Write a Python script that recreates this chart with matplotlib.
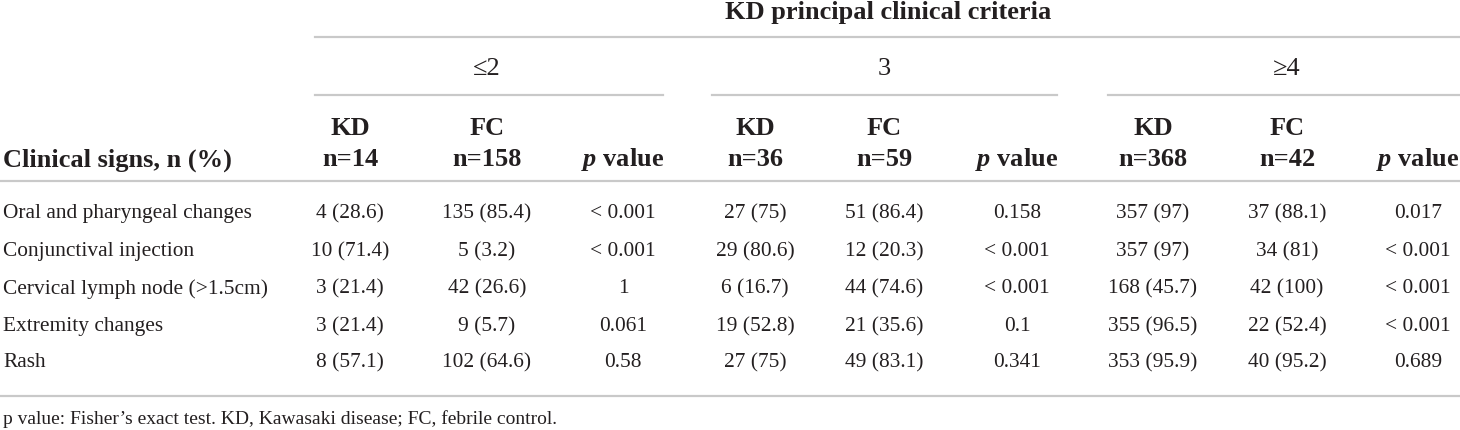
import matplotlib.pyplot as plt
import matplotlib as mpl

# table data
signs = ['Oral and pharyngeal changes', 'Conjunctival injection',
         'Cervical lymph node (>1.5cm)', 'Extremity changes', 'Rash']
groups = ['≤2', '3', '≥4']
kd_total = [14, 36, 368]
fc_total = [158, 59, 42]

kd_le2_n = [4, 10, 3, 3, 8]
kd_le2_pct = [28.6, 71.4, 21.4, 21.4, 57.1]
fc_le2_n = [135, 5, 42, 9, 102]
fc_le2_pct = [85.4, 3.2, 26.6, 5.7, 64.6]
p_le2 = ['< 0.001', '< 0.001', '1', '0.061', '0.58']

kd_3_n = [27, 29, 6, 19, 27]
kd_3_pct = [75, 80.6, 16.7, 52.8, 75]
fc_3_n = [51, 12, 44, 21, 49]
fc_3_pct = [86.4, 20.3, 74.6, 35.6, 83.1]
p_3 = ['0.158', '< 0.001', '< 0.001', '0.1', '0.341']

kd_ge4_n = [357, 357, 168, 355, 353]
kd_ge4_pct = [97, 97, 45.7, 96.5, 95.9]
fc_ge4_n = [37, 34, 42, 22, 40]
fc_ge4_pct = [88.1, 81, 100, 52.4, 95.2]
p_ge4 = ['0.017', '< 0.001', '< 0.001', '< 0.001', '0.689']

footnote = 'p value: Fisher\u2019s exact test. KD, Kawasaki disease; FC, febrile control.'

mpl.rcParams['font.family'] = ['Liberation Serif', 'DejaVu Serif']
mpl.rcParams['mathtext.fontset'] = 'custom'
mpl.rcParams['mathtext.it'] = 'Liberation Serif:italic:bold'
mpl.rcParams['mathtext.rm'] = 'Liberation Serif:bold'

W, H = 1460, 431
fig = plt.figure(figsize=(W / 100, H / 100), dpi=100)
ax = fig.add_axes([0, 0, 1, 1])
ax.set_xlim(0, W)
ax.set_ylim(H, 0)
ax.axis('off')

txt = '#231f20'
rule = '#c9c9c9'
fs = 15.4     # body
hfs = 19      # header
ffs = 14      # footnote

col_x = [350, 487, 623, 755, 884, 1017, 1153, 1287, 1418]
row_y = [214, 252, 289, 327, 363]

def cell(n, pct):
    return '%d (%g)' % (n, pct)

# rules
ax.plot([315, W], [37.5, 37.5], color=rule, lw=1.6)
for x0, x1 in [(315, 663), (712, 1057), (1108, W)]:
    ax.plot([x0, x1], [96, 96], color=rule, lw=1.6)
ax.plot([0, W], [182, 182], color=rule, lw=1.6)
ax.plot([0, W], [397, 397], color=rule, lw=1.6)

# header
ax.text(888, 13, 'KD principal clinical criteria', ha='center', va='center',
        fontsize=hfs, fontweight='bold', color=txt)
for i, g in enumerate(groups):
    ax.text(col_x[3 * i + 1], 69, g, ha='center', va='center', fontsize=hfs, color=txt)
    ax.text(col_x[3 * i], 129, 'KD', ha='center', va='center', fontsize=hfs,
            fontweight='bold', color=txt)
    ax.text(col_x[3 * i], 160, 'n=%d' % kd_total[i], ha='center', va='center',
            fontsize=hfs, fontweight='bold', color=txt)
    ax.text(col_x[3 * i + 1], 129, 'FC', ha='center', va='center', fontsize=hfs,
            fontweight='bold', color=txt)
    ax.text(col_x[3 * i + 1], 160, 'n=%d' % fc_total[i], ha='center', va='center',
            fontsize=hfs, fontweight='bold', color=txt)
    ax.text(col_x[3 * i + 2], 160, r'$p$ value', ha='center', va='center',
            fontsize=hfs, fontweight='bold', color=txt)
ax.text(3, 160, 'Clinical signs, n (%)', ha='left', va='center', fontsize=hfs,
        fontweight='bold', color=txt)

# body
columns = [
    [cell(a, b) for a, b in zip(kd_le2_n, kd_le2_pct)],
    [cell(a, b) for a, b in zip(fc_le2_n, fc_le2_pct)],
    p_le2,
    [cell(a, b) for a, b in zip(kd_3_n, kd_3_pct)],
    [cell(a, b) for a, b in zip(fc_3_n, fc_3_pct)],
    p_3,
    [cell(a, b) for a, b in zip(kd_ge4_n, kd_ge4_pct)],
    [cell(a, b) for a, b in zip(fc_ge4_n, fc_ge4_pct)],
    p_ge4,
]
for r, s in enumerate(signs):
    ax.text(3, row_y[r], s, ha='left', va='center', fontsize=fs, color=txt)
    for c, vals in enumerate(columns):
        ax.text(col_x[c], row_y[r], vals[r], ha='center', va='center',
                fontsize=fs, color=txt)

ax.text(3, 419, footnote, ha='left', va='center', fontsize=ffs, color=txt)

fig.savefig('out.png', dpi=100)
